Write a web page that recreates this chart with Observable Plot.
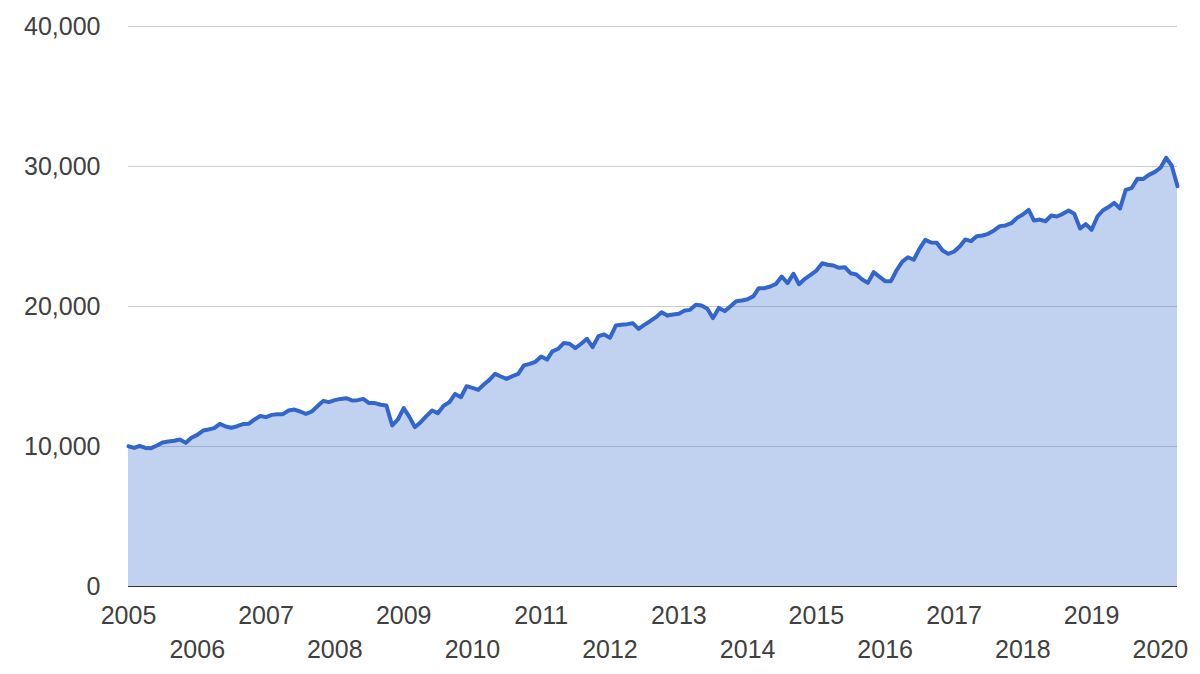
<!DOCTYPE html>
<html><head><meta charset="utf-8">
<script src="https://cdn.jsdelivr.net/npm/d3@7"></script>
<script src="https://cdn.jsdelivr.net/npm/@observablehq/plot@0.6"></script>
<style>html,body{margin:0;padding:0;background:#fff;} svg{display:block}</style>
</head><body><div id="chart"></div>
<script>
// Monthly values from Jan 2005 to Apr 2020
const startYear = 2005;
const values = [
  10020, 9900, 10050, 9900, 9880, 10070, 10290, 10360, 10410, 10500, 10260, 10620,
  10830, 11140, 11210, 11310, 11620, 11430, 11340, 11450, 11600, 11620, 11930, 12180,
  12100, 12260, 12310, 12310, 12570, 12640, 12500, 12330, 12500, 12880, 13260, 13170,
  13310, 13400, 13450, 13290, 13310, 13400, 13100, 13100, 12980, 12930, 11500, 11930,
  12740, 12100, 11380, 11740, 12170, 12570, 12380, 12910, 13170, 13760, 13520, 14310,
  14190, 14050, 14410, 14760, 15190, 15000, 14830, 15020, 15190, 15790, 15900, 16050,
  16430, 16210, 16790, 16980, 17400, 17340, 17030, 17340, 17690, 17100, 17880, 18000,
  17760, 18640, 18690, 18740, 18810, 18400, 18690, 18950, 19240, 19590, 19360, 19430,
  19480, 19710, 19760, 20120, 20070, 19840, 19170, 19900, 19670, 20000, 20380, 20430,
  20520, 20740, 21310, 21310, 21430, 21620, 22140, 21670, 22340, 21590, 21980, 22260,
  22570, 23090, 22980, 22930, 22760, 22810, 22380, 22290, 21930, 21690, 22450, 22140,
  21810, 21810, 22570, 23210, 23520, 23340, 24120, 24760, 24570, 24550, 24000, 23760,
  23930, 24310, 24790, 24670, 25020, 25070, 25190, 25430, 25740, 25790, 25950, 26330,
  26570, 26900, 26140, 26210, 26090, 26500, 26430, 26620, 26850, 26620, 25570, 25880,
  25480, 26430, 26860, 27100, 27400, 27000, 28330, 28450, 29120, 29100, 29400, 29600,
  29900, 30620, 30070, 28590
];
const yTicks = [0, 10000, 20000, 30000, 40000];
const topRowYears = [2005, 2007, 2009, 2011, 2013, 2015, 2017, 2019];
const bottomRowYears = [2006, 2008, 2010, 2012, 2014, 2016, 2018, 2020];

const start = new Date(Date.UTC(startYear, 0, 1));
const data = values.map((v, i) => ({date: d3.utcMonth.offset(start, i), value: v}));
const yr = y => new Date(Date.UTC(y, 0, 1));
const font = "'Liberation Sans', Arial, Helvetica, sans-serif";

const chart = Plot.plot({
  width: 1200,
  height: 674,
  marginLeft: 128,
  marginRight: 23,
  marginTop: 26,
  marginBottom: 88,
  style: {fontFamily: font, fontSize: "25px", color: "#404040", background: "#fff"},
  x: {type: "utc", domain: [data[0].date, data[data.length - 1].date]},
  y: {domain: [0, 40000]},
  marks: [
    Plot.gridY(yTicks.slice(1), {stroke: "#cccccc", strokeOpacity: 1}),
    Plot.areaY(data, {x: "date", y: "value", fill: "#3366cc", fillOpacity: 0.3}),
    Plot.ruleY([0], {stroke: "#333"}),
    Plot.lineY(data, {x: "date", y: "value", stroke: "#3366cc", strokeWidth: 4, strokeLinejoin: "round"}),
    Plot.axisY(yTicks, {tickSize: 0, tickPadding: 28, tickFormat: d3.format(","), fontSize: 25, fill: "#404040", label: null}),
    Plot.axisX(topRowYears.map(yr), {tickSize: 0, tickPadding: 20, tickFormat: d3.utcFormat("%Y"), fontSize: 25, fill: "#404040", label: null}),
    Plot.axisX(bottomRowYears.map(yr), {tickSize: 0, tickPadding: 54, tickFormat: d3.utcFormat("%Y"), fontSize: 25, fill: "#404040", label: null})
  ]
});
document.getElementById("chart").append(chart);
</script>
</body></html>
